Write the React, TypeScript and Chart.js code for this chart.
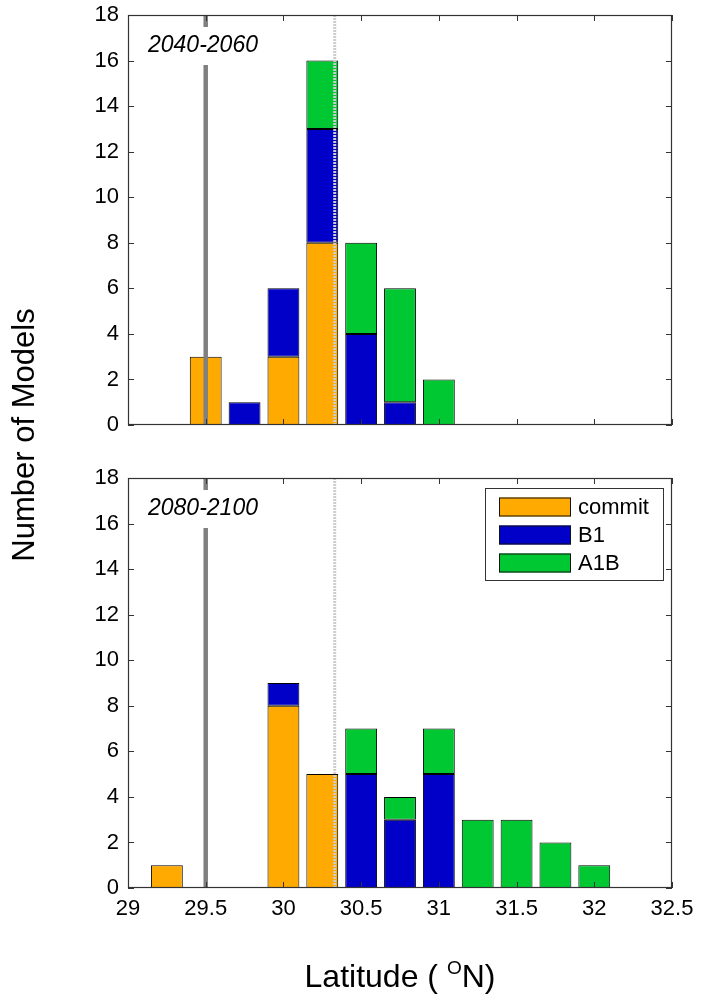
import React, { useEffect, useRef } from "react";
import { Chart, registerables } from "chart.js";

Chart.register(...registerables);

// ---------- data ----------
const BIN_CENTERS = [29.25, 29.5, 29.75, 30, 30.25, 30.5, 30.75, 31, 31.25, 31.5, 31.75, 32];
const SERIES_LABELS = ["commit", "B1", "A1B"];
const SERIES_COLORS = ["#ffaa00", "#0000c8", "#00c832"];

const TOP_COMMIT = [0, 3, 0, 3, 8, 0, 0, 0, 0, 0, 0, 0];
const TOP_B1 = [0, 0, 1, 3, 5, 4, 1, 0, 0, 0, 0, 0];
const TOP_A1B = [0, 0, 0, 0, 3, 4, 5, 2, 0, 0, 0, 0];

const BOTTOM_COMMIT = [1, 0, 0, 8, 5, 0, 0, 0, 0, 0, 0, 0];
const BOTTOM_B1 = [0, 0, 0, 1, 0, 5, 3, 5, 0, 0, 0, 0];
const BOTTOM_A1B = [0, 0, 0, 0, 0, 2, 1, 2, 3, 3, 2, 1];

const X_TICKS = [29, 29.5, 30, 30.5, 31, 31.5, 32, 32.5];
const Y_TICKS = [0, 2, 4, 6, 8, 10, 12, 14, 16, 18];
const X_MIN = 29;
const X_MAX = 32.5;
const Y_MIN = 0;
const Y_MAX = 18;

const REF_SOLID = 29.5;
const REF_DOTTED = 30.33;

const PERIOD_TOP = "2040-2060";
const PERIOD_BOTTOM = "2080-2100";

const Y_TITLE = "Number of Models";

const FONT = "'Liberation Sans', Arial, Helvetica, sans-serif";

// ---------- helpers ----------
function toPoints(values: number[]) {
  return BIN_CENTERS.map((x, i) => ({ x, y: values[i] === 0 ? null : values[i] }));
}

const overlayPlugin = {
  id: "overlay",
  afterDatasetsDraw(chart: any, _args: any, opts: any) {
    const { ctx, chartArea: a, scales } = chart;
    const xs = scales.x;
    ctx.save();
    ctx.beginPath();
    ctx.rect(a.left, a.top, a.right - a.left, a.bottom - a.top);
    ctx.clip();

    // dotted reference line
    const xd = xs.getPixelForValue(REF_DOTTED);
    ctx.strokeStyle = "rgb(205,205,205)";
    ctx.lineWidth = 3;
    ctx.setLineDash([2, 1]);
    ctx.beginPath();
    ctx.moveTo(xd, a.top);
    ctx.lineTo(xd, a.bottom);
    ctx.stroke();

    // solid reference line
    const xl = xs.getPixelForValue(REF_SOLID);
    ctx.setLineDash([]);
    ctx.strokeStyle = "rgb(128,128,128)";
    ctx.lineWidth = 4.5;
    ctx.beginPath();
    ctx.moveTo(xl, a.top);
    ctx.lineTo(xl, a.bottom);
    ctx.stroke();

    // period label with white background
    ctx.font = "italic 23px " + FONT;
    ctx.textBaseline = "middle";
    ctx.textAlign = "left";
    const tx = a.left + 20;
    const ty = a.top + 31;
    const w = ctx.measureText(opts.label).width;
    ctx.fillStyle = "#ffffff";
    ctx.fillRect(tx - 4, ty - 19, w + 8, 38);
    ctx.fillStyle = "#000000";
    ctx.fillText(opts.label, tx, ty);
    ctx.restore();
  },
  afterDraw(chart: any, _args: any, opts: any) {
    const { ctx, chartArea: a, scales } = chart;
    const xs = scales.x;
    const ys = scales.y;
    ctx.save();
    ctx.strokeStyle = "#333";
    ctx.lineWidth = 1;
    const L = 6;
    ctx.beginPath();
    Y_TICKS.forEach((v) => {
      const py = Math.round(ys.getPixelForValue(v)) + 0.5;
      ctx.moveTo(a.left, py);
      ctx.lineTo(a.left + L, py);
      ctx.moveTo(a.right, py);
      ctx.lineTo(a.right - L, py);
    });
    X_TICKS.forEach((v) => {
      const px = Math.round(xs.getPixelForValue(v)) + 0.5;
      ctx.moveTo(px, a.bottom);
      ctx.lineTo(px, a.bottom - L);
      ctx.moveTo(px, a.top);
      ctx.lineTo(px, a.top + L);
    });
    ctx.stroke();
    ctx.strokeStyle = "#333";
    ctx.lineWidth = 1.2;
    ctx.strokeRect(a.left + 0.5, a.top + 0.5, a.right - a.left - 1, a.bottom - a.top - 1);

    if (opts.legend) {
      const bx = a.right - 187;
      const by = a.top + 10;
      ctx.fillStyle = "#ffffff";
      ctx.fillRect(bx, by, 178, 92);
      ctx.strokeStyle = "#333";
      ctx.lineWidth = 1;
      ctx.strokeRect(bx + 0.5, by + 0.5, 178, 92);
      ctx.font = "22px " + FONT;
      ctx.textBaseline = "middle";
      ctx.textAlign = "left";
      SERIES_LABELS.forEach((lab, i) => {
        const cy = a.top + 29 + i * 28;
        ctx.fillStyle = SERIES_COLORS[i];
        ctx.fillRect(bx + 14, cy - 9.5, 72, 19);
        ctx.strokeStyle = "#111";
        ctx.strokeRect(bx + 14.5, cy - 9, 71, 18);
        ctx.fillStyle = "#000";
        ctx.fillText(lab, bx + 93, cy + 1);
      });
    }
    ctx.restore();
  },
};

function makeConfig(series: number[][], label: string, bottom: boolean) {
  return {
    type: "bar" as const,
    data: {
      datasets: series.map((vals, i) => ({
        label: SERIES_LABELS[i],
        data: toPoints(vals),
        backgroundColor: SERIES_COLORS[i],
        borderColor: "#000000",
        borderWidth: 1,
        borderSkipped: false,
        barPercentage: 0.82,
        categoryPercentage: 1,
      })),
    },
    options: {
      responsive: false,
      animation: false as const,
      events: [],
      layout: {
        padding: bottom
          ? { top: 28, right: 31, left: 0, bottom: 0 }
          : { top: 15, right: 31, left: 0, bottom: 0 },
      },
      plugins: {
        legend: { display: false },
        tooltip: { enabled: false },
        overlay: { label, legend: bottom },
      },
      scales: {
        x: {
          type: "linear" as const,
          min: X_MIN,
          max: X_MAX,
          offset: false,
          stacked: true,
          grid: { display: false, drawTicks: false },
          border: { display: false },
          ticks: {
            display: bottom,
            stepSize: 0.5,
            color: "#000",
            padding: 8,
            font: { size: 22, family: FONT },
            maxRotation: 0,
            callback: (v: any) => String(Number(v)),
          },
          afterFit: (s: any) => {
            s.height = bottom ? 109 : 25;
            s.paddingLeft = 0;
            s.paddingRight = 0;
          },
        },
        y: {
          min: Y_MIN,
          max: Y_MAX,
          stacked: true,
          grid: { display: false, drawTicks: false },
          border: { display: false },
          ticks: {
            stepSize: 2,
            color: "#000",
            padding: 9,
            font: { size: 22, family: FONT },
          },
          afterFit: (s: any) => {
            s.width = 128;
            s.paddingTop = 0;
            s.paddingBottom = 0;
          },
        },
      },
    },
    plugins: [overlayPlugin],
  };
}

export default function App() {
  const topRef = useRef<HTMLCanvasElement>(null);
  const botRef = useRef<HTMLCanvasElement>(null);

  useEffect(() => {
    const c1 = new Chart(
      topRef.current as HTMLCanvasElement,
      makeConfig([TOP_COMMIT, TOP_B1, TOP_A1B], PERIOD_TOP, false) as any
    );
    const c2 = new Chart(
      botRef.current as HTMLCanvasElement,
      makeConfig([BOTTOM_COMMIT, BOTTOM_B1, BOTTOM_A1B], PERIOD_BOTTOM, true) as any
    );
    return () => {
      c1.destroy();
      c2.destroy();
    };
  }, []);

  return (
    <div
      style={{
        position: "absolute",
        left: 0,
        top: 0,
        width: 703,
        height: 997,
        background: "#fff",
        fontFamily: FONT,
        overflow: "hidden",
      }}
    >
      <canvas
        ref={topRef}
        width={703}
        height={450}
        style={{ position: "absolute", left: 0, top: 0, display: "block" }}
      />
      <canvas
        ref={botRef}
        width={703}
        height={547}
        style={{ position: "absolute", left: 0, top: 450, display: "block" }}
      />
      <div
        style={{
          position: "absolute",
          left: 24 - 200,
          top: 435 - 16,
          width: 400,
          height: 32,
          lineHeight: "32px",
          fontSize: 31,
          textAlign: "center",
          color: "#000",
          transform: "rotate(-90deg)",
          transformOrigin: "50% 50%",
          whiteSpace: "nowrap",
        }}
      >
        {Y_TITLE}
      </div>
      <div
        style={{
          position: "absolute",
          left: 128,
          top: 960,
          width: 544,
          height: 32,
          lineHeight: "32px",
          fontSize: 32,
          textAlign: "center",
          color: "#000",
          whiteSpace: "nowrap",
        }}
      >
        Latitude ({"\u00a0"}
        <span style={{ fontSize: 19, verticalAlign: "13px", lineHeight: "0px" }}>O</span>N)
      </div>
    </div>
  );
}
